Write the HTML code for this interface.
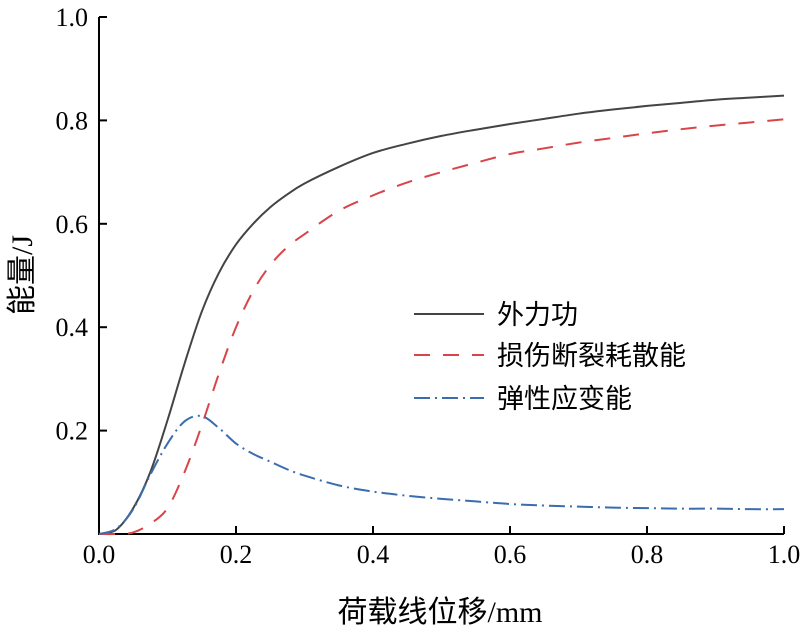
<!DOCTYPE html>
<html><head><meta charset="utf-8"><style>
body{margin:0;background:#fff}
svg text{font-family:"Liberation Serif","Noto Serif CJK SC",serif;fill:#000}
.cjk{font-family:"Liberation Sans","Noto Sans CJK SC",sans-serif}
</style></head><body>
<svg id="chart" width="810" height="635" xmlns="http://www.w3.org/2000/svg">
<g id="axes"></g>
<g id="series"></g>
<g>
<line x1="414" y1="314" x2="484" y2="314" stroke="#444" stroke-width="2"/>
<text class="cjk" x="497" y="324" font-size="27">外力功</text>
<line x1="414" y1="355" x2="484" y2="355" stroke="#d9444a" stroke-width="2" stroke-dasharray="16,13"/>
<text class="cjk" x="497" y="365" font-size="27">损伤断裂耗散能</text>
<line x1="414" y1="398" x2="484" y2="398" stroke="#3a6db0" stroke-width="2" stroke-dasharray="16,5,2,5"/>
<text class="cjk" x="497" y="408" font-size="27">弹性应变能</text>
</g>
<text x="440" y="622" font-size="30" text-anchor="middle"><tspan class="cjk">荷载线位移</tspan>/mm</text>
<text transform="translate(32,275) rotate(-90)" font-size="30" text-anchor="middle"><tspan class="cjk">能量</tspan>/J</text>
</svg>
<script>
const xTicks=[0,0.2,0.4,0.6,0.8,1.0];
const xTickLabels=["0.0","0.2","0.4","0.6","0.8","1.0"];
const yTicks=[0.2,0.4,0.6,0.8,1.0];
const yTickLabels=["0.2","0.4","0.6","0.8","1.0"];
const xData=[0,0.025,0.05,0.075,0.1,0.125,0.15,0.175,0.2,0.225,0.25,0.275,0.3,0.35,0.4,0.45,0.5,0.55,0.6,0.65,0.7,0.75,0.8,0.85,0.9,0.95,1.0];
const workVals=[0,0.008,0.05,0.12,0.22,0.33,0.43,0.505,0.56,0.6,0.632,0.657,0.678,0.71,0.737,0.755,0.77,0.782,0.793,0.803,0.813,0.821,0.828,0.834,0.84,0.844,0.848];
const damageVals=[0,0,0.003,0.02,0.05,0.12,0.21,0.31,0.4,0.47,0.52,0.555,0.58,0.625,0.655,0.68,0.7,0.718,0.735,0.746,0.757,0.766,0.775,0.783,0.79,0.796,0.802];
const elasticVals=[0,0.01,0.048,0.115,0.175,0.218,0.228,0.205,0.175,0.155,0.14,0.125,0.113,0.094,0.082,0.074,0.068,0.063,0.058,0.055,0.053,0.051,0.05,0.049,0.049,0.048,0.048];
const X=v=>99+v*685, Y=v=>534-v*517;
const NS="http://www.w3.org/2000/svg";
const ax=document.getElementById('axes'), se=document.getElementById('series');
function mk(t,a,p){const e=document.createElementNS(NS,t);for(const k in a)e.setAttribute(k,a[k]);p.appendChild(e);return e;}
let l=mk('path',{d:`M${X(0)},${Y(1)} H${X(0)+8} M${X(0)},${Y(1)} V${Y(0)} H${X(1)}`,stroke:'#000','stroke-width':2,fill:'none'},ax);


xTicks.forEach((v,i)=>{
 const t=mk('line',{x1:X(v),x2:X(v),y1:Y(0),y2:Y(0)-8,stroke:'#000','stroke-width':2},ax);
 
 
 const s=mk('text',{x:X(v),y:563,'font-size':26,'text-anchor':'middle'},ax);s.textContent=xTickLabels[i];
 
 
});
yTicks.forEach((v,i)=>{
 const t=mk('line',{x1:X(0),x2:X(0)+8,y1:Y(v),y2:Y(v),stroke:'#000','stroke-width':2},ax);
 
 
 const s=mk('text',{x:88,y:Y(v)+9,'font-size':26,'text-anchor':'end'},ax);s.textContent=yTickLabels[i];
 
 
});
function smooth(vals){
 const p=xData.map((x,i)=>[X(x),Y(vals[i])]);let d=`M${p[0][0]},${p[0][1]}`;
 for(let i=0;i<p.length-1;i++){const p0=p[i-1]||p[i],p1=p[i],p2=p[i+1],p3=p[i+2]||p2;
  d+=` C${p1[0]+(p2[0]-p0[0])/6},${p1[1]+(p2[1]-p0[1])/6} ${p2[0]-(p3[0]-p1[0])/6},${p2[1]-(p3[1]-p1[1])/6} ${p2[0]},${p2[1]}`;}
 return d;}
let a=mk('path',{d:smooth(workVals),stroke:'#444','stroke-width':2,fill:'none'},se);


let b=mk('path',{d:smooth(damageVals),stroke:'#d9444a','stroke-width':2,fill:'none','stroke-dasharray':'16,13'},se);


let c=mk('path',{d:smooth(elasticVals),stroke:'#3a6db0','stroke-width':2,fill:'none','stroke-dasharray':'16,5,2,5'},se);


</script>
</body></html>
